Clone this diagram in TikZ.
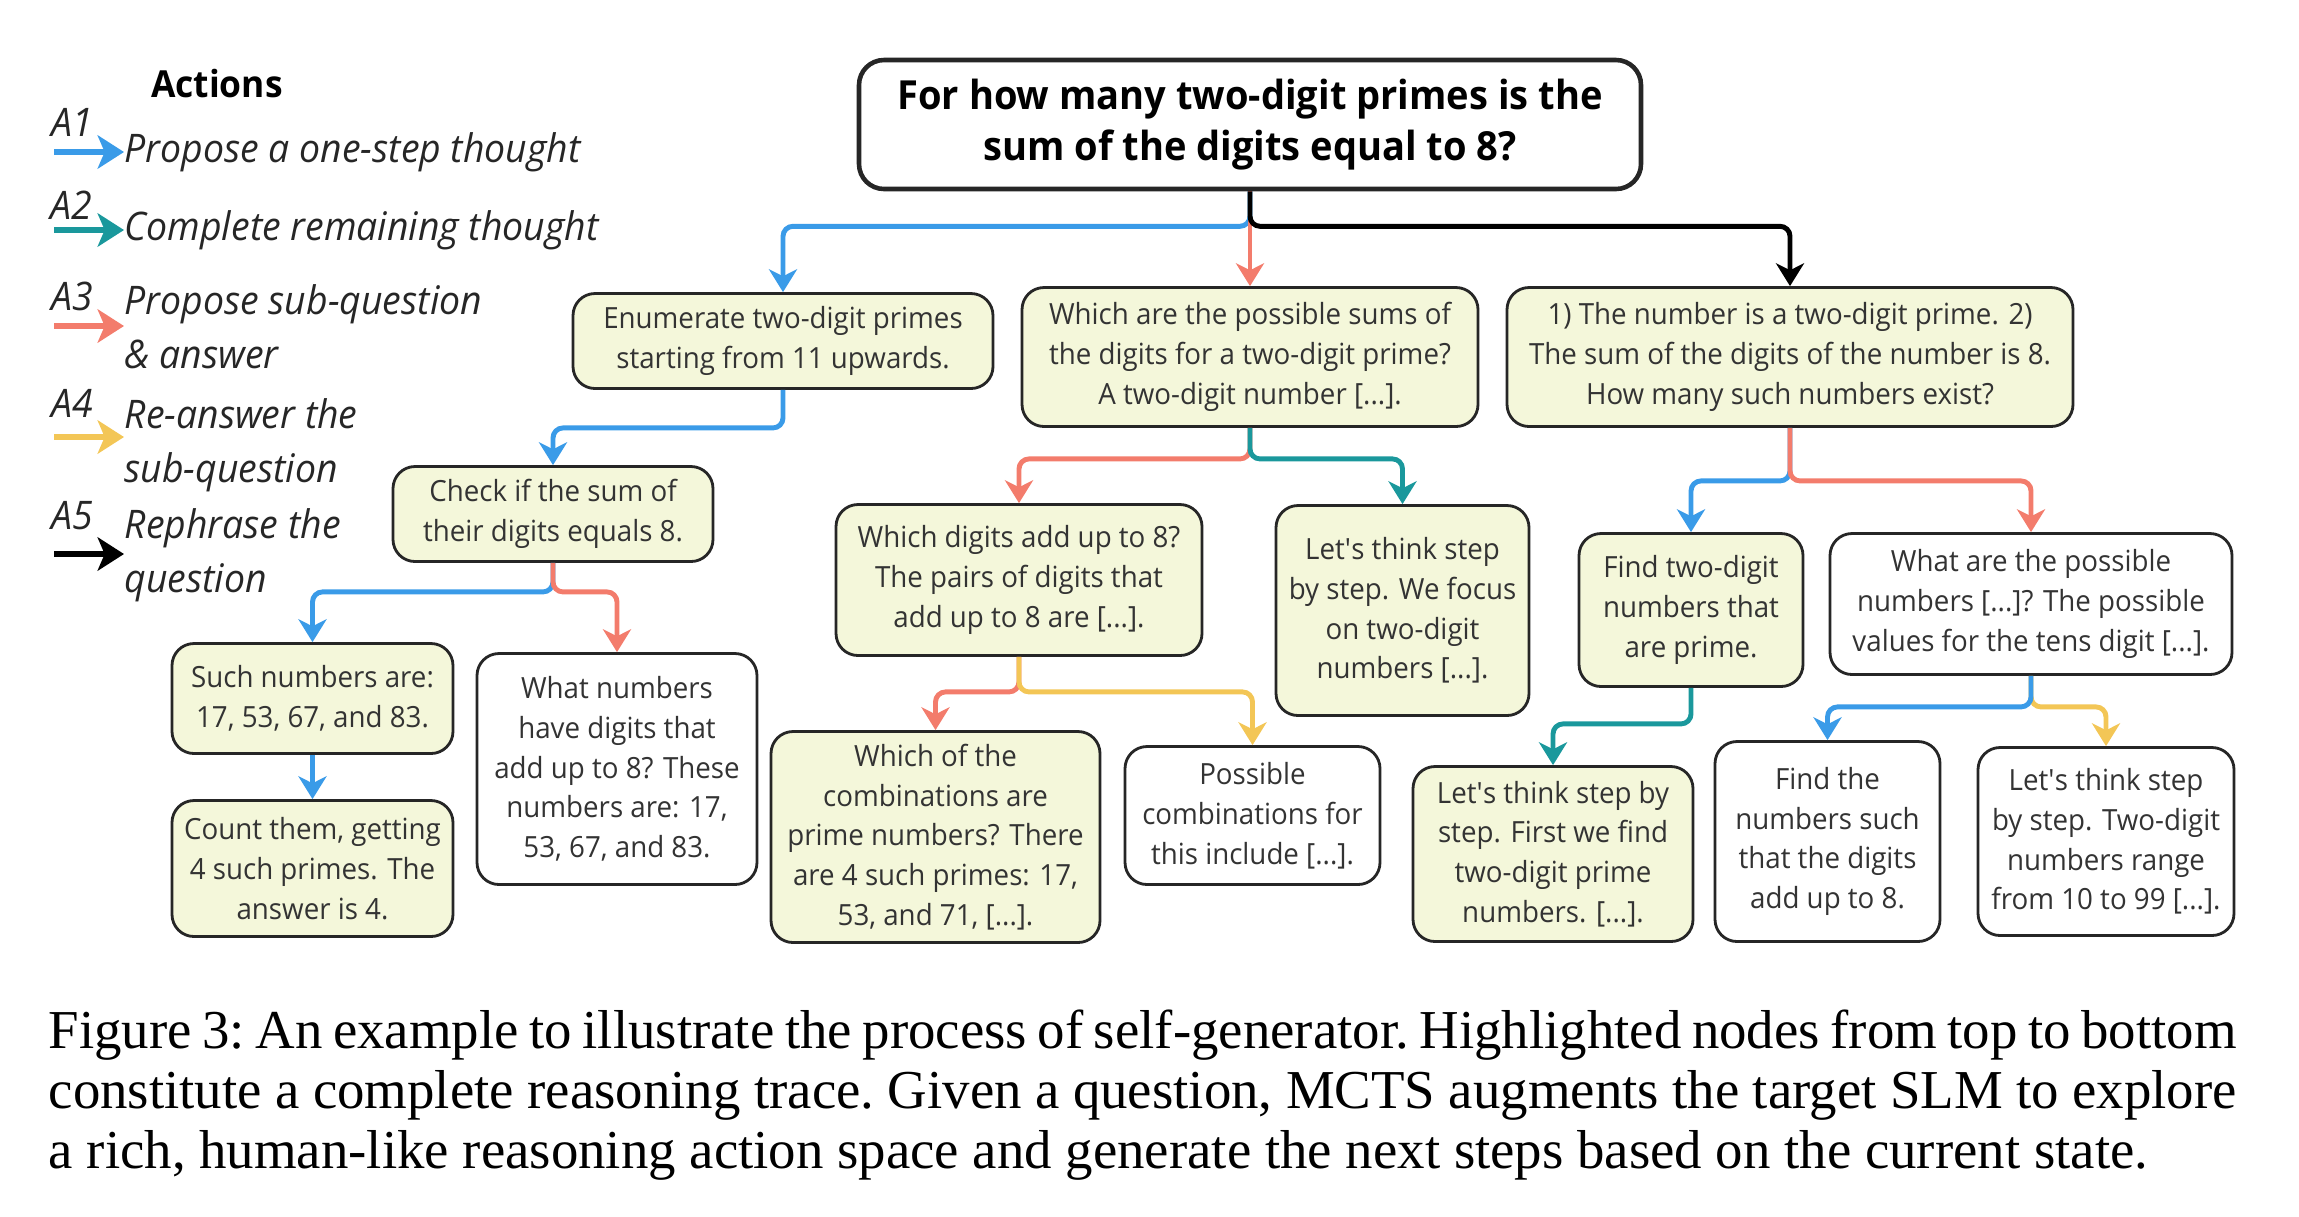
\documentclass[tikz,border=0pt]{standalone}
\usepackage{fontspec}
\setmainfont{Open Sans}[FakeStretch=0.95]
\newfontfamily\captionfont{Liberation Serif}
\usetikzlibrary{arrows.meta}

\definecolor{actblue}{HTML}{3A9BE8}
\definecolor{actteal}{HTML}{1A989C}
\definecolor{actred}{HTML}{F37C6C}
\definecolor{actyellow}{HTML}{F3C656}
\definecolor{hitfill}{HTML}{F4F7DA}
\definecolor{textgray}{HTML}{333333}

\tikzset{
  state/.style={draw=black!85, line width=0.8pt, rounded corners=2.2mm,
    align=center, inner sep=1mm, text=textgray,
    font=\fontsize{8.3}{11.3}\selectfont},
  hit/.style={state, fill=hitfill},
  miss/.style={state, fill=white},
  link/.style={line width=1.4pt, rounded corners=1mm,
    -{Stealth[length=6.5pt, width=8pt, inset=2pt]}},
  act1/.style={link, draw=actblue},
  act2/.style={link, draw=actteal},
  act3/.style={link, draw=actred},
  act4/.style={link, draw=actyellow},
  act5/.style={link, draw=black},
  legarrow/.style={line width=1.8pt,
    -{Stealth[length=7.5pt, width=9.5pt, inset=2pt]}},
  legtext/.style={anchor=west, inner sep=0pt, align=left, text=black!85,
    font=\itshape\fontsize{11.2}{15.4}\selectfont},
  leglabel/.style={inner sep=0pt, text=black!85,
    font=\itshape\fontsize{11.2}{13}\selectfont}
}

\begin{document}
\begin{tikzpicture}[x=0.1mm, y=-0.1mm]
  \useasboundingbox (0,0) rectangle (2299,1216);

  % Legend of the five actions
  \node[font=\bfseries\fontsize{10.6}{12}\selectfont] (acthead) at (217,84) {Actions};
  \node[leglabel] (a1lab) at (72,122) {A1};
  \node[leglabel] (a2lab) at (71,205) {A2};
  \node[leglabel] (a3lab) at (72,296) {A3};
  \node[leglabel] (a4lab) at (72,403) {A4};
  \node[leglabel] (a5lab) at (72,516) {A5};
  \node[legtext] (a1txt) at (124,152) {Propose a one-step thought};
  \node[legtext] (a2txt) at (124,230) {Complete remaining thought};
  \node[legtext] (a3txt) at (124,327) {Propose sub-question\\\& answer};
  \node[legtext] (a4txt) at (124,445) {Re-answer the\\sub-question};
  \node[legtext] (a5txt) at (124,555) {Rephrase the\\question};
  \coordinate (a1s) at (54,152);
  \coordinate (a2s) at (54,230);
  \coordinate (a3s) at (54,326);
  \coordinate (a4s) at (54,437);
  \coordinate (a5s) at (54,554);
  \draw[legarrow, actblue] (a1s) -- (a1s -| a1txt.west);
  \draw[legarrow, actteal] (a2s) -- (a2s -| a2txt.west);
  \draw[legarrow, actred] (a3s) -- (a3s -| a3txt.west);
  \draw[legarrow, actyellow] (a4s) -- (a4s -| a4txt.west);
  \draw[legarrow, black] (a5s) -- (a5s -| a5txt.west);

  % Question
  \node[state, line width=1.3pt, rounded corners=2.5mm, text=black,
        font=\bfseries\fontsize{11.4}{14.4}\selectfont,
        minimum width=78.2mm, minimum height=12.9mm] (root) at (1250,124.5)
        {For how many two-digit primes is the\\sum of the digits equal to 8?};

  % First level
  \node[hit, minimum width=42mm, minimum height=9.5mm] (enum) at (783,341)
        {Enumerate two-digit primes\\starting from 11 upwards.};
  \node[hit, minimum width=45.6mm, minimum height=13.9mm] (sums) at (1250,357)
        {Which are the possible sums of\\the digits for a two-digit prime?\\A two-digit number [...].};
  \node[hit, minimum width=56.6mm, minimum height=13.9mm] (rephr) at (1790,357)
        {1) The number is a two-digit prime. 2)\\The sum of the digits of the number is 8.\\How many such numbers exist?};

  % Second level
  \node[hit, minimum width=32mm, minimum height=9.5mm] (check) at (553,514)
        {Check if the sum of\\their digits equals 8.};
  \node[hit, minimum width=36.6mm, minimum height=15.1mm] (digits) at (1019,580)
        {Which digits add up to 8?\\The pairs of digits that\\add up to 8 are [...].};
  \node[hit, minimum width=25.3mm, minimum height=21mm] (focus) at (1402.5,610.5)
        {Let\textquotesingle s think step\\by step. We focus\\on two-digit\\numbers [...].};
  \node[hit, minimum width=22.4mm, minimum height=15.3mm] (findp) at (1691,610)
        {Find two-digit\\numbers that\\are prime.};
  \node[miss, minimum width=40.2mm, minimum height=14.1mm] (possn) at (2031,604)
        {What are the possible\\numbers [...]? The possible\\values for the tens digit [...].};

  % Third level
  \node[hit, minimum width=28.1mm, minimum height=11mm] (such) at (312.5,698.5)
        {Such numbers are:\\17, 53, 67, and 83.};
  \node[miss, minimum width=28mm, minimum height=23.1mm] (whatn) at (617,769)
        {What numbers\\have digits that\\add up to 8? These\\numbers are: 17,\\53, 67, and 83.};
  \node[hit, minimum width=28.1mm, minimum height=13.6mm] (count) at (312.5,868.5)
        {Count them, getting\\4 such primes. The\\answer is 4.};
  \node[hit, minimum width=32.9mm, minimum height=21.1mm] (combs) at (935.5,837)
        {Which of the\\combinations are\\prime numbers? There\\are 4 such primes: 17,\\53, and 71, [...].};
  \node[miss, minimum width=25.5mm, minimum height=13.8mm] (possc) at (1252.5,815.5)
        {Possible\\combinations for\\this include [...].};
  \node[hit, minimum width=28mm, minimum height=17.5mm] (first) at (1553,854)
        {Let\textquotesingle s think step by\\step. First we find\\two-digit prime\\numbers. [...].};
  \node[miss, minimum width=22.5mm, minimum height=20mm] (findn) at (1827.5,841.5)
        {Find the\\numbers such\\that the digits\\add up to 8.};
  \node[miss, minimum width=25.6mm, minimum height=18.8mm] (range) at (2106,841.5)
        {Let\textquotesingle s think step\\by step. Two-digit\\numbers range\\from 10 to 99 [...].};

  % Branches (last drawn colours the stem)
  \draw[act1] (root.south) -- ++(0,35) -| (enum.north);
  \draw[act3] (root.south) -- (sums.north);
  \draw[act5] (root.south) -- ++(0,35) -| (rephr.north);

  \draw[act1] (enum.south) -- ++(0,38) -| (check.north);

  \draw[act3] (sums.south) -- ++(0,31) -| (digits.north);
  \draw[act2] (sums.south) -- ++(0,31) -| (focus.north);

  \draw[act1] (rephr.south) -- ++(0,53) -| (findp.north);
  \draw[act3] (rephr.south) -- ++(0,53) -| (possn.north);

  \draw[act1] (check.south) -- ++(0,29) -| (such.north);
  \draw[act3] (check.south) -- ++(0,29) -| (whatn.north);

  \draw[act1] (such.south) -- (count.north);

  \draw[act3] (digits.south) -- ++(0,35) -| (combs.north);
  \draw[act4] (digits.south) -- ++(0,35) -| (possc.north);

  \draw[act2] (findp.south) -- ++(0,36) -| (first.north);

  \draw[act4] (possn.south) -- ++(0,31) -| (range.north);
  \draw[act1] (possn.south) -- ++(0,31) -| (findn.north);

  % Caption
  \node[anchor=west, inner sep=0pt, align=left,
        font=\captionfont\frenchspacing\fontsize{15.6}{17.1}\selectfont] (caption) at (48,1095)
        {\makebox[218.8mm][s]{Figure 3: An example to illustrate the process of self-generator. Highlighted nodes from top to bottom}\\
         \makebox[218.8mm][s]{constitute a complete reasoning trace. Given a question, MCTS augments the target SLM to explore}\\
         a rich, human-like reasoning action space and generate the next steps based on the current state.};
\end{tikzpicture}
\end{document}
